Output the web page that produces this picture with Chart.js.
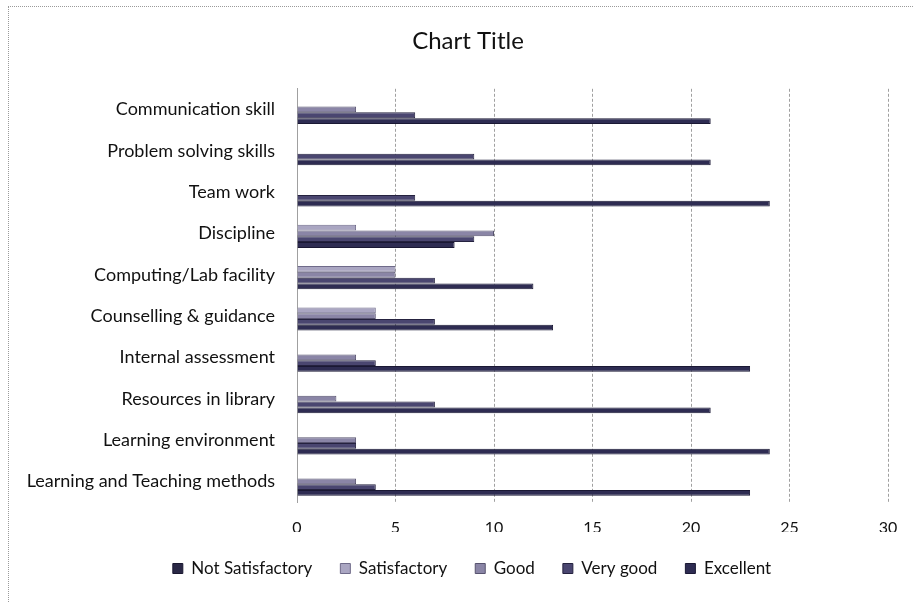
<!DOCTYPE html>
<html>
<head>
<meta charset="utf-8">
<script src="https://cdn.jsdelivr.net/npm/chart.js@4"></script>
<style>
  html, body { margin: 0; padding: 0; background: #ffffff; }
  #wrap { position: relative; width: 916px; height: 605px; }
  #frame { position: absolute; left: 8px; top: 6px; width: 905px; height: 596px; border-top: 1px dotted #9a9a9a; border-left: 1px dotted #9a9a9a; box-sizing: border-box; pointer-events: none; }
  canvas { position: absolute; left: 0; top: 0; }
</style>
</head>
<body>
<div id="wrap">
  <canvas id="c" width="916" height="605"></canvas>
  <div id="frame"></div>
</div>
<script>
// Categories, top to bottom as shown
const categories = [
  "Communication skill",
  "Problem solving skills",
  "Team work",
  "Discipline",
  "Computing/Lab facility",
  "Counselling & guidance",
  "Internal assessment",
  "Resources in library",
  "Learning environment",
  "Learning and Teaching methods"
];

const seriesNames = ["Not Satisfactory", "Satisfactory", "Good", "Very good", "Excellent"];

// Values per series, same order as categories
const notSatisfactory = [0, 0, 0, 0, 0, 0, 0, 0, 0, 0];
const satisfactory    = [0, 0, 0, 3, 5, 4, 0, 0, 0, 0];
const good            = [3, 0, 0, 10, 5, 4, 3, 2, 3, 3];
const veryGood        = [6, 9, 6, 9, 7, 7, 4, 7, 3, 4];
const excellent       = [21, 21, 24, 8, 12, 13, 23, 21, 24, 23];

const xTicks = [0, 5, 10, 15, 20, 25, 30];

const seriesValues = [notSatisfactory, satisfactory, good, veryGood, excellent];
const fillColors   = ["#2a2846", "#aaa6c2", "#8a85a6", "#4a4670", "#2e2c52"];
const edgeColors   = ["#1a1830", "#6f6b8a", "#57536f", "#25223f", "#1a1834"];

const FONT = "Lato, 'Open Sans', 'Liberation Sans', sans-serif";

const datasets = seriesNames.map((name, i) => ({
  label: name,
  data: seriesValues[i],
  backgroundColor: fillColors[i],
  borderColor: edgeColors[i],
  borderWidth: 1,
  categoryPercentage: 0.7,
  barPercentage: 1.0
}));

// shift title and legend boxes to be centred like the reference
const shiftBlocks = {
  id: "shiftBlocks",
  afterLayout(chart) {
    if (chart.titleBlock) { chart.titleBlock.left = 48; chart.titleBlock.right = 888; }
    if (chart.legend) { chart.legend.left = 52; chart.legend.right = 892; }
  }
};

new Chart(document.getElementById("c"), {
  type: "bar",
  data: { labels: categories, datasets: datasets },
  plugins: [shiftBlocks],
  options: {
    indexAxis: "y",
    responsive: false,
    animation: false,
    devicePixelRatio: 1,
    layout: { padding: { top: 27, right: 28, bottom: 18, left: 0 } },
    plugins: {
      title: {
        display: true,
        text: "Chart Title",
        color: "#111111",
        font: { family: FONT, size: 24, weight: "normal" },
        padding: { top: 0, bottom: 33 }
      },
      legend: {
        position: "bottom",
        labels: {
          color: "#111111",
          font: { family: FONT, size: 17 },
          boxWidth: 10,
          boxHeight: 10,
          padding: 28
        }
      },
      tooltip: { enabled: false }
    },
    scales: {
      x: {
        min: 0,
        max: 30,
        afterBuildTicks: (s) => { s.ticks = xTicks.map(v => ({ value: v })); },
        ticks: { color: "#111111", font: { family: FONT, size: 16 }, padding: 16 },
        grid: { color: "#a0a0a0", drawTicks: false, lineWidth: 1 },
        border: { display: false, dash: [3, 2] },
        afterFit: (s) => { s.height = 30; }
      },
      y: {
        ticks: { color: "#111111", font: { family: FONT, size: 18 }, padding: 14 },
        grid: { display: false },
        border: { display: true, color: "#a0a0a0" },
        afterFit: (s) => { s.width = 297; }
      }
    }
  }
});
</script>
</body>
</html>
